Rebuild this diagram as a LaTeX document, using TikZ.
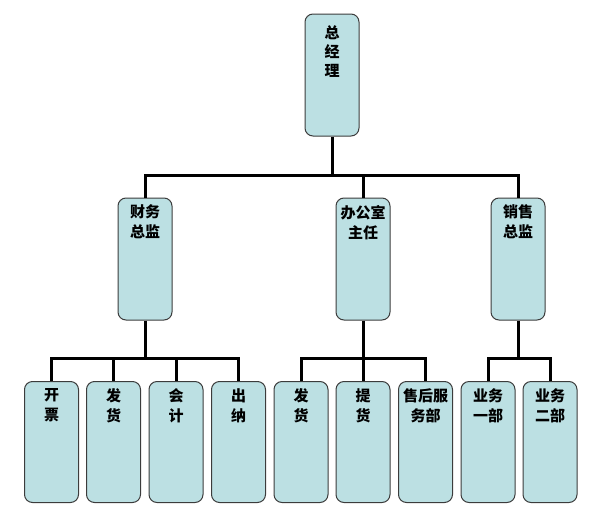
\documentclass[tikz,border=0pt]{standalone}
\usepackage{fontspec}
\newfontfamily\cjk{Noto Sans CJK SC}
\definecolor{boxfill}{RGB}{188,224,227}
\definecolor{boxborder}{RGB}{60,60,60}
\newcommand{\bxt}[3]{\parbox[t][#1][t]{54pt}{\centering\vspace*{#2}#3\par}}
\tikzset{
  orgbox/.style={draw=boxborder, fill=boxfill, rounded corners=8pt, line width=1pt,
    inner sep=0pt, minimum width=54pt,
    font=\cjk\bfseries\fontsize{15}{20}\selectfont},
  conn/.style={draw=black, line width=3pt}
}
\begin{document}
\begin{tikzpicture}[x=1pt,y=-1pt]
\useasboundingbox (0,0) rectangle (599,514);
% level 1
\node[orgbox] (top) at (332,75) {\bxt{122pt}{12pt}{\fontsize{15}{19}\selectfont 总\\经\\理}};
% level 2
\node[orgbox] (fin) at (145,259) {\bxt{122pt}{7pt}{财务\\总监}};
\node[orgbox] (office) at (363,259) {\bxt{122pt}{7pt}{办公室\\主任}};
\node[orgbox] (sales) at (518,259) {\bxt{122pt}{7pt}{销售\\总监}};
% level 3
\node[orgbox] (f1) at (51.5,442) {\bxt{121pt}{7pt}{开\\票}};
\node[orgbox] (f2) at (113.5,442) {\bxt{121pt}{7pt}{发\\货}};
\node[orgbox] (f3) at (176,442) {\bxt{121pt}{7pt}{会\\计}};
\node[orgbox] (f4) at (238.5,442) {\bxt{121pt}{7pt}{出\\纳}};
\node[orgbox] (o1) at (301,442) {\bxt{121pt}{7pt}{发\\货}};
\node[orgbox] (o2) at (363,442) {\bxt{121pt}{7pt}{提\\货}};
\node[orgbox] (o3) at (425.5,442) {\bxt{121pt}{7pt}{售后服\\务部}};
\node[orgbox] (s1) at (488,442) {\bxt{121pt}{7pt}{业务\\一部}};
\node[orgbox] (s2) at (550,442) {\bxt{121pt}{7pt}{业务\\二部}};
% buses
\coordinate (b1) at (332,175);
\coordinate (b2) at (145,358);
\coordinate (b3) at (363,358);
\coordinate (b4) at (518,358);
% connectors
\draw[conn] (top.south) -- (b1);
\draw[conn] (fin.north) |- (b1) -| (sales.north);
\draw[conn] (b1) -| (office.north);
\draw[conn] (fin.south) -- (b2);
\draw[conn] (f1.north) |- (b2) -| (f4.north);
\draw[conn] (f2.north) -- (f2.north |- b2);
\draw[conn] (f3.north) -- (f3.north |- b2);
\draw[conn] (office.south) -- (o2.north);
\draw[conn] (o1.north) |- (b3) -| (o3.north);
\draw[conn] (sales.south) -- (b4);
\draw[conn] (s1.north) |- (b4) -| (s2.north);
\end{tikzpicture}
\end{document}
